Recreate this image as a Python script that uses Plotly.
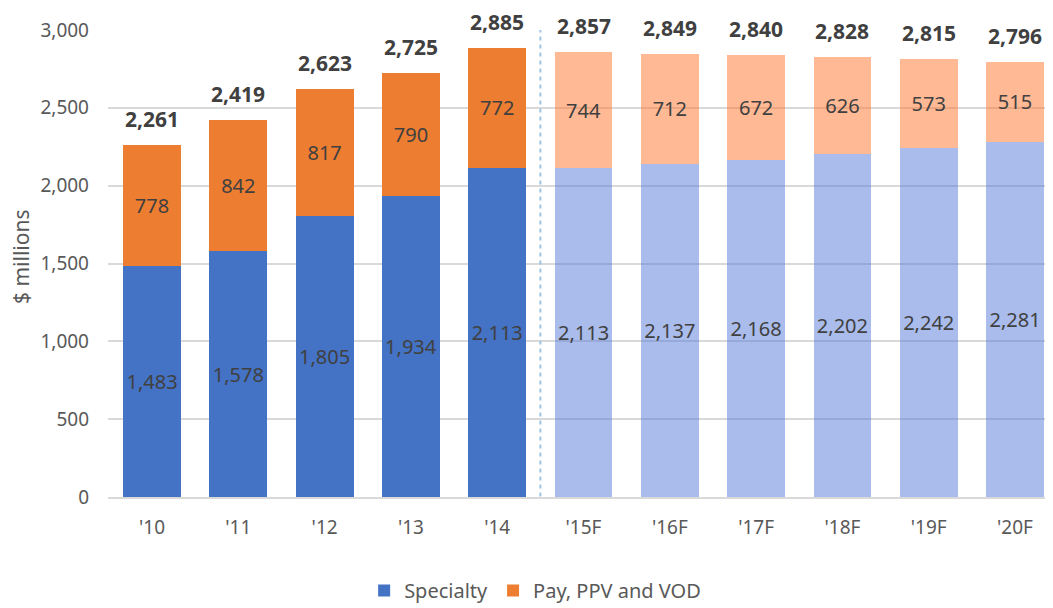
import plotly.graph_objects as go

categories = ["'10", "'11", "'12", "'13", "'14", "'15F", "'16F", "'17F", "'18F", "'19F", "'20F"]
specialty = [1483, 1578, 1805, 1934, 2113, 2113, 2137, 2168, 2202, 2242, 2281]
pay_ppv_vod = [778, 842, 817, 790, 772, 744, 712, 672, 626, 573, 515]
totals = [2261, 2419, 2623, 2725, 2885, 2857, 2849, 2840, 2828, 2815, 2796]
n_hist = 5

FONT = "Noto Sans"
LABEL_COLOR = "#404040"
TICK_COLOR = "#595959"

hist_x = categories[:n_hist]
fc_x = categories[n_hist:]

fig = go.Figure()

def add_bar(x, y, color, name, showlegend):
    fig.add_trace(go.Bar(
        x=x, y=y, name=name, showlegend=showlegend,
        marker=dict(color=color, line=dict(width=0)),
        text=[f"{v:,}" for v in y],
        textposition="inside", insidetextanchor="middle",
        textfont=dict(family=FONT, size=20, color=LABEL_COLOR),
        textangle=0, hoverinfo="skip", legendgroup=name,
    ))

add_bar(hist_x, specialty[:n_hist], "#4472C4", "Specialty", True)
add_bar(fc_x, specialty[n_hist:], "rgba(83,121,215,0.5)", "Specialty", False)
add_bar(hist_x, pay_ppv_vod[:n_hist], "#ED7D31", "Pay, PPV and VOD", True)
add_bar(fc_x, pay_ppv_vod[n_hist:], "rgba(255,115,43,0.5)", "Pay, PPV and VOD", False)

for c, t in zip(categories, totals):
    fig.add_annotation(x=c, y=t, text=f"<b>{t:,}</b>", showarrow=False,
                       yanchor="bottom", yshift=10,
                       font=dict(family=FONT, size=21, color=LABEL_COLOR))

fig.add_shape(type="line", xref="x", yref="y", x0=4.5, x1=4.5, y0=-100, y1=3055,
              line=dict(color="#9DC3E6", width=2, dash="4px,4px"))

# y-axis title
fig.add_annotation(xref="paper", yref="paper", x=-0.0915, y=0.515, text="$ millions",
                   textangle=-90, showarrow=False, xanchor="center", yanchor="middle",
                   font=dict(family=FONT, size=21, color=TICK_COLOR))

# page body has an 8px margin: figure starts at (8, 8)
fig.update_layout(
    width=1045, height=600,
    barmode="stack", bargap=0.33,
    plot_bgcolor="white", paper_bgcolor="white",
    margin=dict(l=100, r=0, t=22, b=111, autoexpand=False),
    font=dict(family=FONT, size=19, color=TICK_COLOR),
    uniformtext=dict(minsize=18, mode="show"),
    legend=dict(orientation="h", x=0.452, xanchor="center", y=-0.2, yanchor="middle",
                font=dict(family=FONT, size=20, color=TICK_COLOR),
                traceorder="normal", itemwidth=30),
    xaxis=dict(range=[-0.51, 10.44], showgrid=False, showline=True, linecolor="#D9D9D9",
               linewidth=1.5, ticks="", automargin=False, ticklabelstandoff=12,
               tickfont=dict(size=19, color=TICK_COLOR)),
    yaxis=dict(range=[0, 3000], dtick=500, tickformat=",d", showgrid=True,
               gridcolor="#D9D9D9", gridwidth=1.5, zeroline=False, showline=False,
               ticks="", automargin=False, ticklabelstandoff=18,
               tickfont=dict(size=19, color=TICK_COLOR)),
)

fig.write_html("out.html")
